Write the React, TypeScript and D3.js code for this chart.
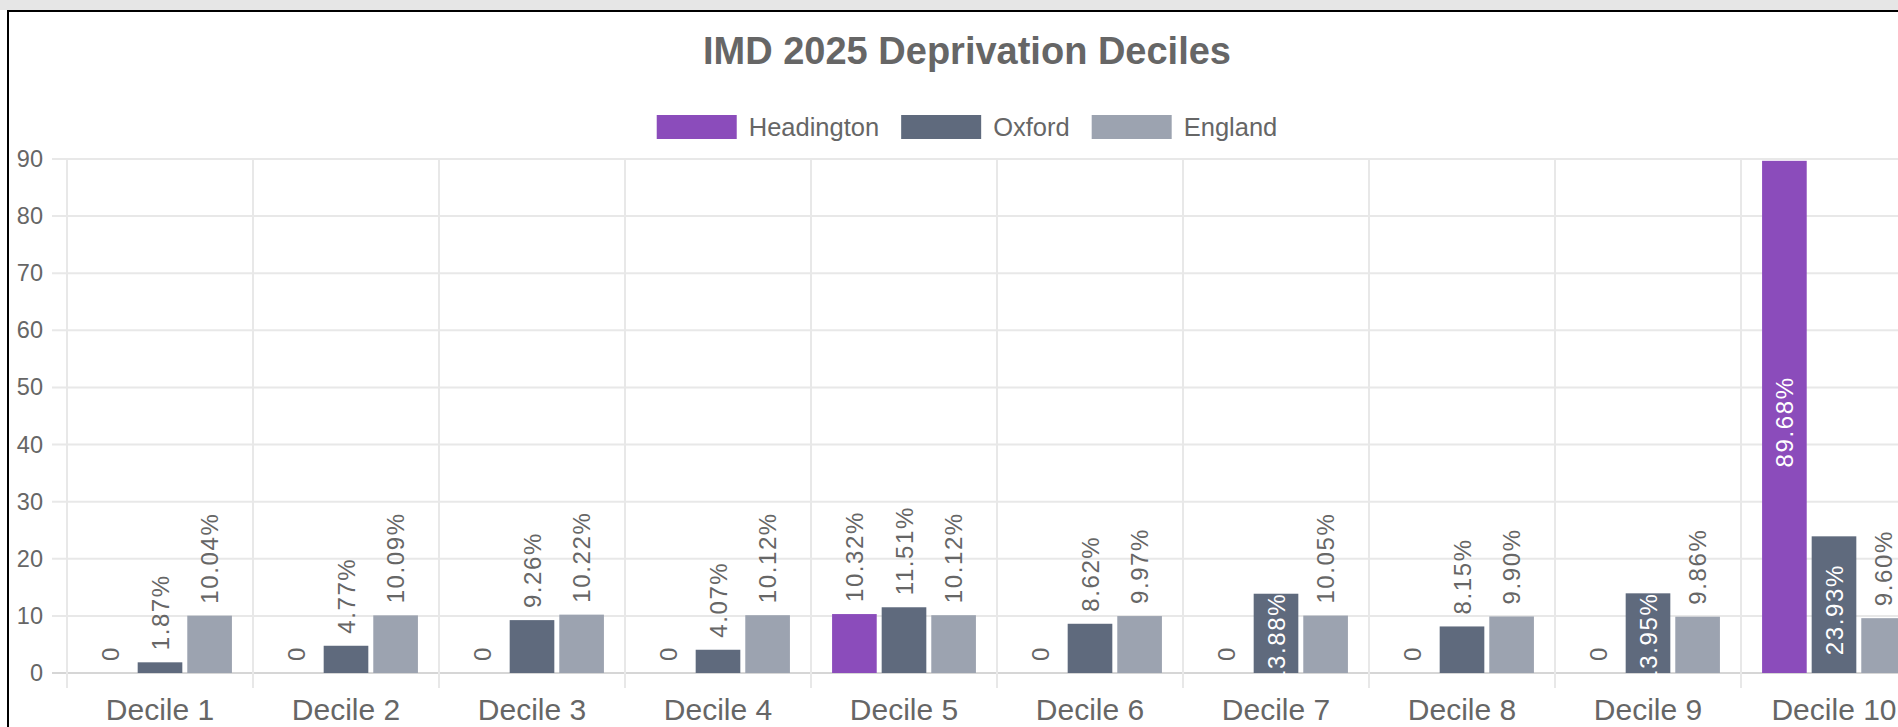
import React from 'react';
import * as d3 from 'd3';

// chart values
const deciles = ['Decile 1', 'Decile 2', 'Decile 3', 'Decile 4', 'Decile 5', 'Decile 6', 'Decile 7', 'Decile 8', 'Decile 9', 'Decile 10'];
const seriesNames = ['Headington', 'Oxford', 'England'];
const headington = [0, 0, 0, 0, 10.32, 0, 0, 0, 0, 89.68];
const oxford = [1.87, 4.77, 9.26, 4.07, 11.51, 8.62, 13.88, 8.15, 13.95, 23.93];
const england = [10.04, 10.09, 10.22, 10.12, 10.12, 9.97, 10.05, 9.9, 9.86, 9.6];
const yTicks = [0, 10, 20, 30, 40, 50, 60, 70, 80, 90];
const seriesColors = ['#8b4cbb', '#5f6a7d', '#9ca3b0'];

const W = 1898;
const H = 727;
const FONT = "'Liberation Sans', Arial, Helvetica, sans-serif";

const measure = (txt: string, font: string) => {
    const ctx = document.createElement('canvas').getContext('2d');
    if (!ctx) return txt.length * 12;
    ctx.font = font;
    return ctx.measureText(txt).width;
};

export default function App() {
    const canvasLeft = 9;
    const canvasRight = 1925;
    const centerX = (canvasLeft + canvasRight) / 2;

    const plotLeft = 67;
    const catW = 186;
    const plotTop = 159;
    const plotBottom = 673;

    const x = d3.scaleBand<string>()
        .domain(deciles)
        .range([plotLeft, plotLeft + catW * deciles.length])
        .padding(0);

    // chart.js style: categoryPercentage 0.8, barPercentage 0.9
    const xSub = d3.scaleBand<string>()
        .domain(seriesNames)
        .range([catW * 0.1, catW * 0.9])
        .paddingInner(0.1)
        .paddingOuter(0.05);

    const y = d3.scaleLinear().domain([0, 90]).range([plotBottom, plotTop]);

    const values = [headington, oxford, england];
    const fmt = (v: number) => (v === 0 ? '0' : v.toFixed(2) + '%');

    // legend layout
    const legendFont = `25.5px ${FONT}`;
    const boxW = 80, boxH = 24, textGap = 12, itemGap = 22;
    const widths = seriesNames.map(s => measure(s, legendFont));
    const total = widths.reduce((a, w) => a + boxW + textGap + w, 0) + itemGap * (seriesNames.length - 1);
    let lx = centerX - total / 2;
    const legendItems = seriesNames.map((s, i) => {
        const item = { name: s, x: lx, color: seriesColors[i] };
        lx += boxW + textGap + widths[i] + itemGap;
        return item;
    });
    const legendY = 115;

    return (
        <svg width={W} height={H} style={{ position: 'fixed', left: 0, top: 0, background: '#fff' }} fontFamily={FONT}>
            <rect x={0} y={0} width={W} height={10} fill="#e6e6e6" />
            <line x1={7} x2={W} y1={11} y2={11} stroke="#000" strokeWidth={2} />
            <line x1={8} x2={8} y1={10} y2={H} stroke="#000" strokeWidth={2} />

            <text x={centerX} y={64} textAnchor="middle" fontSize={38} fontWeight="bold" fill="#666">
                IMD 2025 Deprivation Deciles
            </text>

            {legendItems.map(d => (
                <g key={d.name}>
                    <rect x={d.x} y={legendY} width={boxW} height={boxH} fill={d.color} />
                    <text x={d.x + boxW + textGap} y={legendY + boxH / 2} dominantBaseline="central" fontSize={25.5} fill="#666">{d.name}</text>
                </g>
            ))}

            {/* horizontal grid + ticks */}
            {yTicks.map(t => (
                <g key={t}>
                    <line x1={plotLeft - 15} x2={W} y1={y(t)} y2={y(t)} stroke={t === 0 ? '#d6d6d6' : '#e8e8e8'} strokeWidth={2} />
                    <text x={43} y={y(t)} textAnchor="end" dominantBaseline="central" fontSize={23.5} fill="#666">{t}</text>
                </g>
            ))}

            {/* vertical grid */}
            {deciles.map(d => (
                <line key={d} x1={x(d)!} x2={x(d)!} y1={plotTop} y2={plotBottom + 15} stroke="#e8e8e8" strokeWidth={2} />
            ))}

            {/* bars */}
            {values.map((vals, si) => (
                <g key={seriesNames[si]}>
                    {vals.map((v, i) => (
                        <rect key={i}
                            x={x(deciles[i])! + xSub(seriesNames[si])!}
                            y={y(v)}
                            width={xSub.bandwidth()}
                            height={y(0) - y(v)}
                            fill={seriesColors[si]} />
                    ))}
                </g>
            ))}

            {/* data labels */}
            {values.map((vals, si) => (
                <g key={'lab' + seriesNames[si]}>
                    {vals.map((v, i) => {
                        const cx = x(deciles[i])! + xSub(seriesNames[si])! + xSub.bandwidth() / 2;
                        const inside = v > 12;
                        const cy = inside ? (y(v) + y(0)) / 2 + 5 : y(v) - 12;
                        return (
                            <text key={i}
                                transform={`translate(${cx},${cy}) rotate(-90)`}
                                textAnchor={inside ? 'middle' : 'start'}
                                dominantBaseline="central"
                                fontSize={24}
                                letterSpacing={1.6}
                                fill={inside ? '#fff' : '#666'}>
                                {fmt(v)}
                            </text>
                        );
                    })}
                </g>
            ))}

            {/* x labels */}
            {deciles.map(d => (
                <text key={'x' + d} x={x(d)! + catW / 2} y={720} textAnchor="middle" fontSize={30} fill="#666">{d}</text>
            ))}
        </svg>
    );
}
